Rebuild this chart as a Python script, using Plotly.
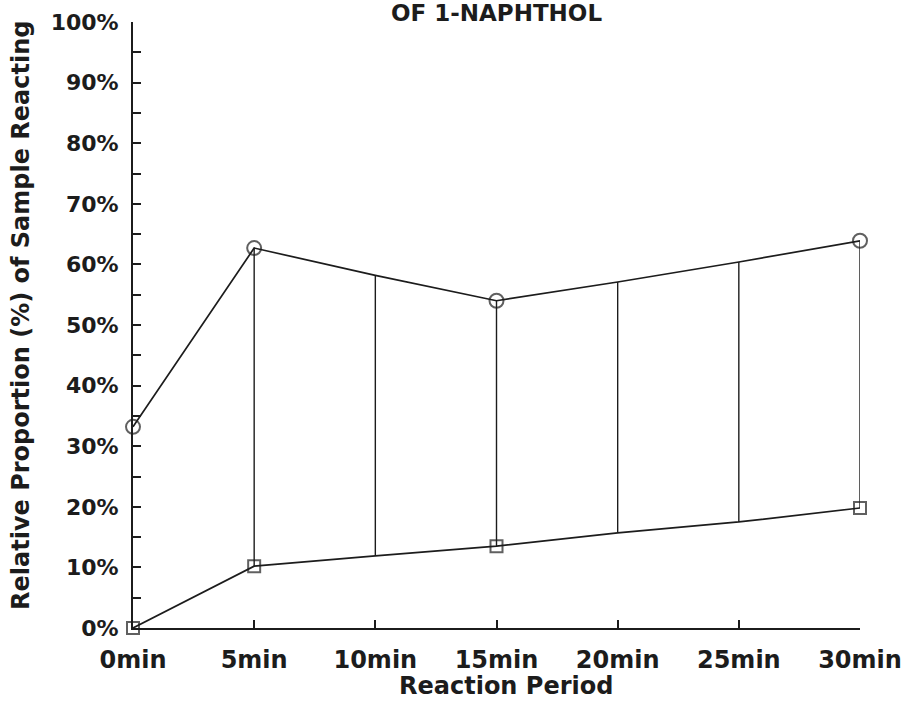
import plotly.graph_objects as go

# Reaction time points (minutes) and their labels
minutes = [0, 5, 10, 15, 20, 25, 30]
minute_labels = ["0min", "5min", "10min", "15min", "20min", "25min", "30min"]

# Upper and lower bounds of the reacting proportion (%) at each time point
upper_pct = [33.2, 62.7, 58.2, 54.0, 57.1, 60.4, 63.9]
lower_pct = [0.0, 10.2, 11.9, 13.5, 15.7, 17.5, 19.8]

# Time points that were actually measured (carry a marker)
measured = [True, True, False, True, False, False, True]

# Vertical connectors are drawn at these time points
connector_minutes = [5, 10, 15, 20, 25, 30]

pct_ticks = [0, 10, 20, 30, 40, 50, 60, 70, 80, 90, 100]
pct_labels = ["0%", "10%", "20%", "30%", "40%", "50%", "60%", "70%", "80%", "90%", "100%"]

INK = "#1c1c1c"
FONT = "DejaVu Sans"

fig = go.Figure()

# vertical connectors between the two bounds
vx, vy = [], []
for m in connector_minutes:
    i = minutes.index(m)
    vx += [m, m, None]
    vy += [lower_pct[i], upper_pct[i], None]
fig.add_trace(go.Scatter(x=vx, y=vy, mode="lines",
                         line=dict(color=INK, width=1.4),
                         hoverinfo="skip", showlegend=False, cliponaxis=False))

# upper bound line with circle markers
fig.add_trace(go.Scatter(
    x=minutes, y=upper_pct, mode="lines+markers",
    line=dict(color=INK, width=1.7),
    marker=dict(symbol="circle-open", size=[14 if k else 0 for k in measured],
                color=INK, line=dict(width=2)),
    showlegend=False, cliponaxis=False))

# lower bound line with square markers
fig.add_trace(go.Scatter(
    x=minutes, y=lower_pct, mode="lines+markers",
    line=dict(color=INK, width=1.7),
    marker=dict(symbol="square-open", size=[12 if k else 0 for k in measured],
                color=INK, line=dict(width=2)),
    showlegend=False, cliponaxis=False))

fig.update_layout(
    width=905, height=702,
    margin=dict(l=133, r=45, t=22, b=74),
    paper_bgcolor="white", plot_bgcolor="white",
    font=dict(family=FONT, color=INK, size=22),
    title=dict(text="<b>OF 1-NAPHTHOL</b>", x=0.5, xref="paper",
               y=1 - 12.5 / 702, yref="container", yanchor="middle",
               xanchor="center", font=dict(family=FONT, size=23, color=INK)),
    xaxis=dict(range=[0, 30], tickvals=minutes, ticktext=minute_labels,
               automargin=False,
               showline=True, linecolor=INK, linewidth=2,
               ticks="inside", ticklen=8, tickwidth=1.5, tickcolor=INK,
               showgrid=False, zeroline=False,
               ticklabelstandoff=9,
               tickfont=dict(family=FONT, size=24, color=INK, weight="bold")),
    yaxis=dict(range=[0, 100], tickvals=pct_ticks, ticktext=pct_labels,
               automargin=False,
               showline=True, linecolor=INK, linewidth=2,
               ticks="inside", ticklen=8, tickwidth=1.5, tickcolor=INK,
               minor=dict(tickvals=[5, 15, 25, 35, 45, 55, 65, 75, 85, 95],
                          ticks="inside", ticklen=8, tickwidth=1.5, tickcolor=INK),
               showgrid=False, zeroline=False,
               ticklabelstandoff=8,
               tickfont=dict(family=FONT, size=22, color=INK, weight="bold")),
)

# axis titles
fig.add_annotation(text="<b>Reaction Period</b>", xref="paper", yref="paper",
                   x=(506 - 133) / 727, y=-(686 - 628) / 606,
                   xanchor="center", yanchor="middle", showarrow=False,
                   font=dict(family=FONT, size=24, color=INK))
fig.add_annotation(text="<b>Relative Proportion (%) of Sample Reacting</b>",
                   xref="paper", yref="paper",
                   x=-(133 - 21) / 727, y=(628 - 315) / 606,
                   xanchor="center", yanchor="middle", textangle=-90,
                   showarrow=False,
                   font=dict(family=FONT, size=24, color=INK))

fig.write_html("out.html")
